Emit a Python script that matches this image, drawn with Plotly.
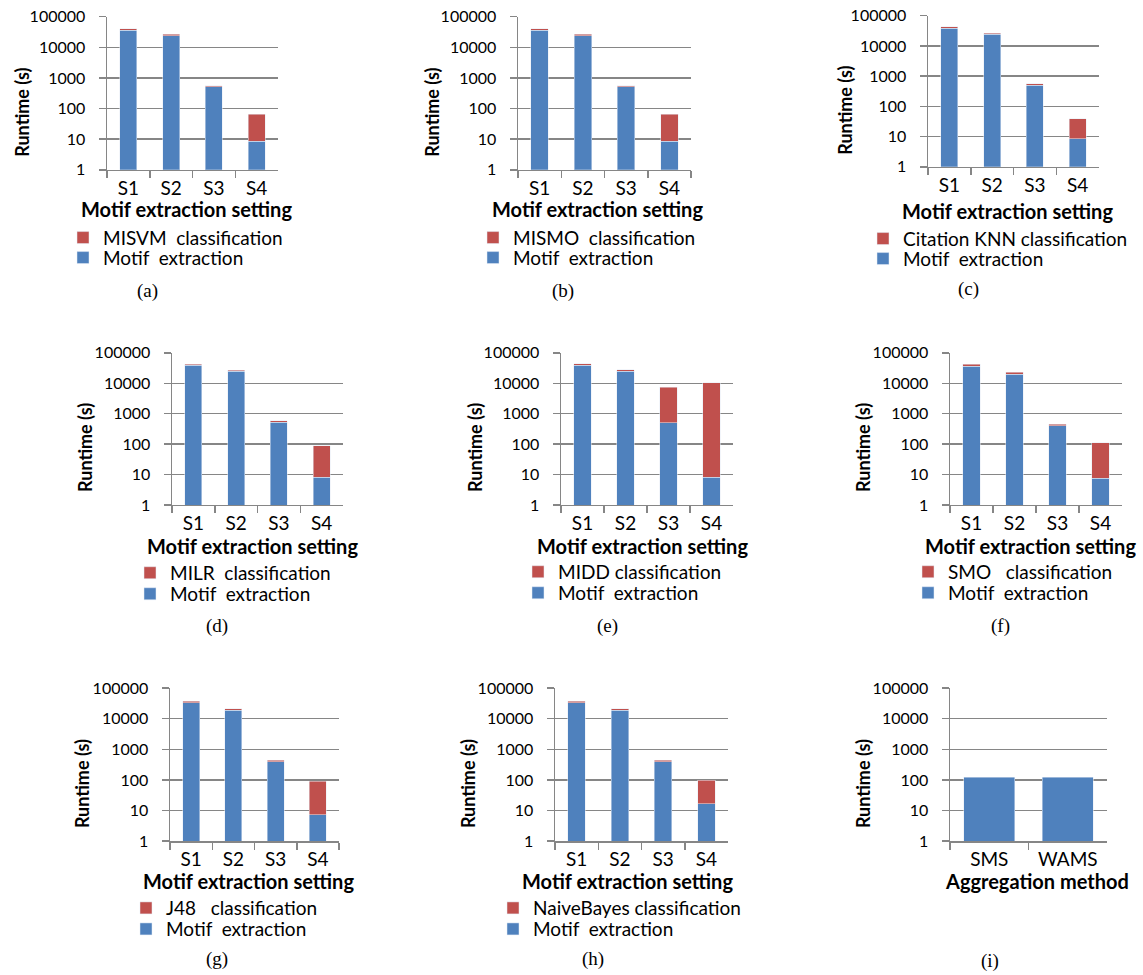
import plotly.graph_objects as go

W, H = 1143, 975

SETTINGS = ["S1", "S2", "S3", "S4"]
AGG_METHODS = ["SMS", "WAMS"]
Y_TICKS = [1, 10, 100, 1000, 10000, 100000]
Y_TICK_TEXT = ["1", "10", "100", "1000", "10000", "100000"]

# Motif extraction runtime (blue) per panel
motif_a = [36000, 24000, 510, 8.4]
motif_b = [36000, 24000, 510, 8.4]
motif_c = [39000, 24000, 490, 8.5]
motif_d = [38500, 25000, 520, 8.0]
motif_e = [38500, 25000, 510, 8.0]
motif_f = [35700, 19500, 400, 7.5]
motif_g = [33300, 18700, 386, 7.4]
motif_h = [33300, 18700, 386, 16.9]

# Classification runtime (red) per panel
cls_a = [4500, 2500, 45, 57]
cls_b = [4500, 2500, 45, 57]
cls_c = [4000, 2600, 65, 30]
cls_d = [4000, 2000, 58, 80]
cls_e = [5000, 2700, 7000, 10400]
cls_f = [5800, 3200, 50, 103]
cls_g = [4400, 2500, 51, 83]
cls_h = [4400, 2500, 51, 80]

# Aggregation runtime (panel i)
agg_i = [122, 122]

cls_names = {
    "a": "MISVM\u00a0\u00a0classification",
    "b": "MISMO\u00a0\u00a0classification",
    "c": "Citation\u00a0KNN classification",
    "d": "MILR\u00a0\u00a0classification",
    "e": "MIDD classification",
    "f": "SMO\u00a0\u00a0\u00a0classification",
    "g": "J48\u00a0\u00a0\u00a0classification",
    "h": "NaiveBayes classification",
}
motif_name = "Motif\u00a0\u00a0extraction"

BLUE = "#4F81BD"
RED = "#C0504D"
GRAY = "#868686"
FONT = "Lato"

# panel geometry in pixels: x0, x1, ytop, ybottom
geom = {
    "a": (107, 278, 16, 169),
    "b": (518, 691, 16, 169),
    "c": (928, 1099, 15, 166),
    "d": (172, 343, 352, 504),
    "e": (561, 733, 352, 504),
    "f": (950, 1122, 352, 504),
    "g": (170, 339, 687, 840),
    "h": (555, 728, 687, 840),
    "i": (950, 1107, 687, 840),
}
ytitle = {"a": (22, 112), "b": (432, 112), "c": (845, 110), "d": (85, 447), "e": (475, 447),
          "f": (863, 447), "g": (82, 783), "h": (468, 783), "i": (863, 783)}
xtitle = {"a": (186, 208), "b": (597, 208), "c": (1007, 210), "d": (252, 545), "e": (642, 545),
          "f": (1030, 545), "g": (248, 880), "h": (627, 880), "i": (1037, 880)}
caption = {"a": (147, 290), "b": (563, 290), "c": (968, 288), "d": (217, 625), "e": (607, 625),
           "f": (1000, 625), "g": (217, 958), "h": (593, 958), "i": (990, 960)}
# legend: marker-left x, row1 centre y, row2 centre y
legpos = {"a": (80, 238, 258), "b": (490, 238, 258), "c": (880, 239, 259), "d": (147, 573, 594),
          "e": (535, 572, 593), "f": (925, 572, 593), "g": (143, 908, 929), "h": (510, 908, 929)}

motif = dict(a=motif_a, b=motif_b, c=motif_c, d=motif_d, e=motif_e, f=motif_f, g=motif_g, h=motif_h)
cls = dict(a=cls_a, b=cls_b, c=cls_c, d=cls_d, e=cls_e, f=cls_f, g=cls_g, h=cls_h)

# page photographed slightly compressed vertically: compensate
Y_OFF, Y_SCALE = 9.3, 0.98


def ry(py):
    return (py - Y_OFF) / Y_SCALE


fx = lambda px: px / W
fy = lambda py: 1 - ry(py) / H

LEG_DX = 17
LEG_DY = 20.5
LEG_FONT = 19

fig = go.Figure()
layout = dict(
    width=W, height=H, margin=dict(l=0, r=0, t=0, b=0),
    paper_bgcolor="white", plot_bgcolor="white", hovermode=False,
    barmode="stack", font=dict(family=FONT, size=16, color="black"),
)
annotations = []


def leg(x_px, yc_px):
    return dict(x=fx(x_px - LEG_DX), y=1 - (ry(yc_px) - LEG_DY) / H, xanchor="left", yanchor="top",
                bgcolor="rgba(0,0,0,0)", font=dict(family=FONT, size=LEG_FONT, color="black"),
                itemwidth=30)


panels = ["a", "b", "c", "d", "e", "f", "g", "h", "i"]
leg_n = 0
for k, p in enumerate(panels):
    idx = k + 1
    xa = "x" if idx == 1 else f"x{idx}"
    ya = "y" if idx == 1 else f"y{idx}"
    x0, x1, yt, yb = geom[p]
    if p == "i":
        fig.add_trace(go.Bar(x=AGG_METHODS, y=agg_i, marker_color=BLUE, width=0.65,
                             xaxis=xa, yaxis=ya, showlegend=False))
        cats = AGG_METHODS
    else:
        lx, r1, r2 = legpos[p]
        leg_n += 1
        lg_red = "legend" if leg_n == 1 else f"legend{leg_n}"
        leg_n += 1
        lg_blue = f"legend{leg_n}"
        fig.add_trace(go.Bar(x=SETTINGS, y=motif[p], name=motif_name, marker_color=BLUE,
                             width=0.4, xaxis=xa, yaxis=ya, legend=lg_blue))
        fig.add_trace(go.Bar(x=SETTINGS, y=cls[p], name=cls_names[p], marker_color=RED,
                             width=0.4, xaxis=xa, yaxis=ya, legend=lg_red))
        layout[lg_red] = leg(lx, r1)
        layout[lg_blue] = leg(lx, r2)
        cats = SETTINGS
    xkey = "xaxis" if idx == 1 else f"xaxis{idx}"
    ykey = "yaxis" if idx == 1 else f"yaxis{idx}"
    layout[xkey] = dict(domain=[fx(x0), fx(x1)], anchor=ya, type="category",
                        range=[-0.5, len(cats) - 0.5], tickson="boundaries",
                        ticks="outside", ticklen=7, tickcolor=GRAY, tickwidth=1.5,
                        showline=True, linecolor=GRAY, linewidth=1.5, showgrid=False,
                        tickfont=dict(family=FONT, size=19, color="black"),
                        ticklabelstandoff=1)
    layout[ykey] = dict(domain=[fy(yb), fy(yt)], anchor=xa, type="log", range=[0, 5],
                        tickvals=Y_TICKS, ticktext=Y_TICK_TEXT,
                        ticks="outside", ticklen=7, tickcolor=GRAY, tickwidth=1.5,
                        showline=True, linecolor=GRAY, linewidth=1.5,
                        showgrid=True, gridcolor=GRAY, gridwidth=1.5, zeroline=False,
                        tickfont=dict(family=FONT, size=16, color="black"),
                        ticklabelstandoff=10)
    tx, ty = ytitle[p]
    annotations.append(dict(text="<b>Runtime (s)</b>", x=fx(tx), y=fy(ty), xref="paper", yref="paper",
                            textangle=-90, showarrow=False, xanchor="center", yanchor="middle",
                            font=dict(family=FONT, size=18, color="black")))
    tx, ty = xtitle[p]
    xt = "<b>Aggregation method</b>" if p == "i" else "<b>Motif extraction setting</b>"
    annotations.append(dict(text=xt, x=fx(tx), y=fy(ty), xref="paper", yref="paper",
                            showarrow=False, xanchor="center", yanchor="middle",
                            font=dict(family=FONT, size=20, color="black")))
    tx, ty = caption[p]
    annotations.append(dict(text=f"({p})", x=fx(tx), y=fy(ty), xref="paper", yref="paper",
                            showarrow=False, xanchor="center", yanchor="middle",
                            font=dict(family="Liberation Serif", size=19, color="black")))

layout["annotations"] = annotations
fig.update_layout(**layout)
fig.write_html("out.html", config={"displayModeBar": False, "staticPlot": True},
               post_script="document.body.style.margin='0';")
